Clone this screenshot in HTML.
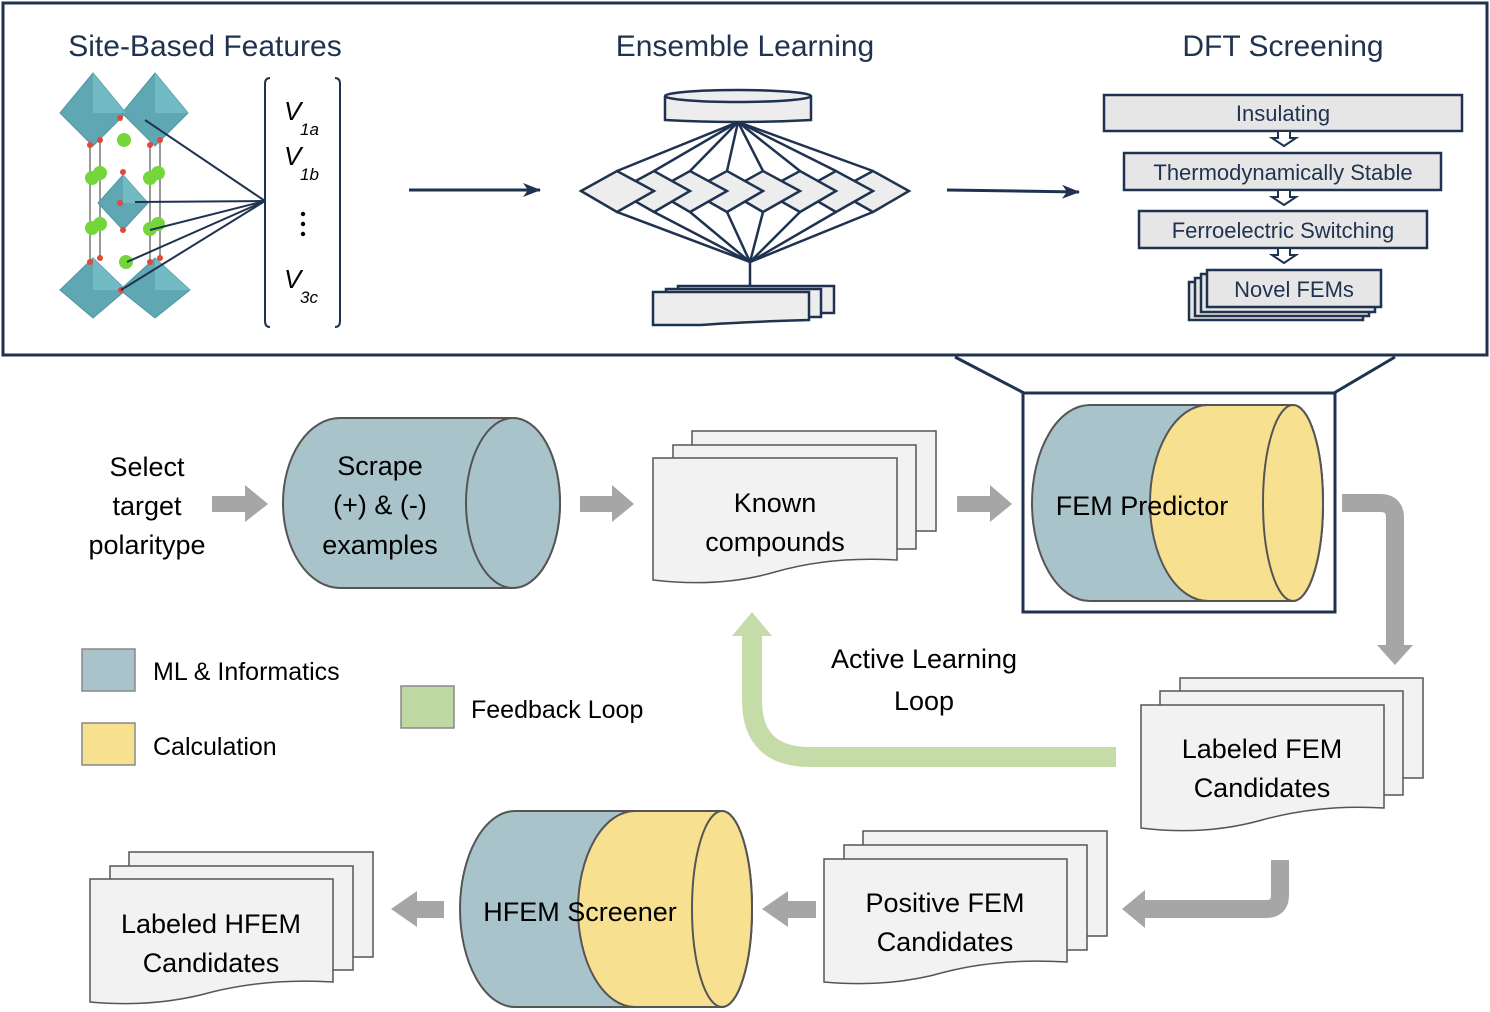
<!DOCTYPE html>
<html><head><meta charset="utf-8"><style>
html,body{margin:0;padding:0;background:#fff;}
svg{display:block;font-family:"Liberation Sans",sans-serif;}
</style></head><body>
<svg width="1490" height="1012" viewBox="0 0 1490 1012" xmlns="http://www.w3.org/2000/svg">
<defs>
<marker id="ah" markerWidth="18" markerHeight="14" refX="17" refY="7" orient="auto" markerUnits="userSpaceOnUse"><path d="M0,0 L18,7 L0,14 L5,7 Z" fill="#1f3350"/></marker>
</defs>
<rect x="3" y="3" width="1484" height="352" fill="#fff" stroke="#1f3350" stroke-width="3"/>
<text x="205" y="56" font-size="30" text-anchor="middle" fill="#1f3350">Site-Based Features</text>
<text x="745" y="56" font-size="30" text-anchor="middle" fill="#1f3350">Ensemble Learning</text>
<text x="1283" y="56" font-size="30" text-anchor="middle" fill="#1f3350">DFT Screening</text>

<g stroke="#999" stroke-width="2">
<line x1="90" y1="145" x2="90" y2="262"/><line x1="100" y1="140" x2="100" y2="258"/>
<line x1="150" y1="145" x2="150" y2="262"/><line x1="160" y1="140" x2="160" y2="258"/>
</g>
<g fill="#5fa8b3" stroke="#4f96a1" stroke-width="1">
<polygon points="93,73 126,113 93,146 60,113"/>
<polygon points="155,73 188,113 155,146 122,113"/>
<polygon points="123,175 148,203 123,230 98,203"/>
<polygon points="93,258 126,290 93,318 60,290"/>
<polygon points="155,258 190,290 155,318 120,290"/>
</g>
<g fill="#7fc6cf" opacity="0.6">
<polygon points="93,73 126,113 93,113"/><polygon points="155,73 188,113 155,113"/>
<polygon points="123,175 148,203 123,203"/><polygon points="93,258 126,290 93,290"/><polygon points="155,258 190,290 155,290"/>
</g>
<g fill="#74d63a">
<circle cx="124" cy="140" r="7"/><circle cx="92" cy="178" r="7"/><circle cx="100" cy="173" r="7"/>
<circle cx="150" cy="178" r="7"/><circle cx="158" cy="173" r="7"/>
<circle cx="92" cy="228" r="7"/><circle cx="100" cy="224" r="7"/>
<circle cx="150" cy="229" r="7"/><circle cx="158" cy="224" r="7"/><circle cx="126" cy="262" r="7"/>
</g>
<g fill="#e0483a">
<circle cx="120" cy="118" r="3"/><circle cx="90" cy="145" r="3"/><circle cx="100" cy="140" r="3"/><circle cx="150" cy="145" r="3"/><circle cx="160" cy="140" r="3"/>
<circle cx="123" cy="172" r="3"/><circle cx="120" cy="203" r="3"/><circle cx="123" cy="230" r="3"/>
<circle cx="90" cy="262" r="3"/><circle cx="100" cy="258" r="3"/><circle cx="150" cy="262" r="3"/><circle cx="160" cy="258" r="3"/><circle cx="121" cy="290" r="3"/>
</g>
<g stroke="#1f3350" stroke-width="2" fill="none">
<line x1="265" y1="201" x2="145" y2="120"/><line x1="265" y1="201" x2="135" y2="202"/>
<line x1="265" y1="201" x2="150" y2="230"/><line x1="265" y1="201" x2="127" y2="262"/>
<line x1="265" y1="201" x2="121" y2="290"/>
<path d="M270,78 Q265,78 265,84 V321 Q265,327 270,327"/>
<path d="M335,78 Q340,78 340,84 V321 Q340,327 335,327"/>
</g>
<g font-style="italic" fill="#000">
<text x="284" y="120" font-size="26">V</text><text x="300" y="135" font-size="17">1a</text>
<text x="284" y="165" font-size="26">V</text><text x="300" y="180" font-size="17">1b</text>
<text x="284" y="288" font-size="26">V</text><text x="300" y="303" font-size="17">3c</text>
</g>
<g fill="#000"><circle cx="303" cy="214" r="2.2"/><circle cx="303" cy="224" r="2.2"/><circle cx="303" cy="234" r="2.2"/></g>

<line x1="409" y1="190" x2="540" y2="190" stroke="#1f3350" stroke-width="3" marker-end="url(#ah)"/>
<line x1="947" y1="190" x2="1079" y2="192" stroke="#1f3350" stroke-width="3" marker-end="url(#ah)"/>

<g stroke="#1f3350" stroke-width="2.5" fill="#ededed">
<path d="M665,96 V120 Q738,124 811,120 V96"/>
<ellipse cx="738" cy="96" rx="73" ry="6"/>
<g fill="none">
<line x1="738" y1="122" x2="617" y2="171"/><line x1="738" y1="122" x2="654" y2="171"/>
<line x1="738" y1="122" x2="690" y2="171"/><line x1="738" y1="122" x2="727" y2="171"/>
<line x1="738" y1="122" x2="763" y2="171"/><line x1="738" y1="122" x2="800" y2="171"/>
<line x1="738" y1="122" x2="836" y2="171"/><line x1="738" y1="122" x2="873" y2="171"/>
<line x1="750" y1="262" x2="617" y2="212"/><line x1="750" y1="262" x2="654" y2="212"/>
<line x1="750" y1="262" x2="690" y2="212"/><line x1="750" y1="262" x2="727" y2="212"/>
<line x1="750" y1="262" x2="763" y2="212"/><line x1="750" y1="262" x2="800" y2="212"/>
<line x1="750" y1="262" x2="836" y2="212"/><line x1="750" y1="262" x2="873" y2="212"/>
<line x1="750" y1="262" x2="750" y2="286"/>
</g>
<polygon points="836,191 873,171 909,191 873,212"/>
<polygon points="800,191 836,171 873,191 836,212"/>
<polygon points="763,191 800,171 836,191 800,212"/>
<polygon points="727,191 763,171 800,191 763,212"/>
<polygon points="690,191 727,171 763,191 727,212"/>
<polygon points="654,191 690,171 727,191 690,212"/>
<polygon points="617,191 654,171 690,191 654,212"/>
<polygon points="581,191 617,171 654,191 617,212"/>
<rect x="678" y="286" width="156" height="27"/>
<rect x="666" y="289" width="155" height="28"/>
<path d="M653,292 H809 V320 Q740,322 700,325 H653 Z"/>
</g>

<g stroke="#1f3350" stroke-width="2.5" fill="#e6e6e6">
<rect x="1104" y="95" width="358" height="36"/>
<rect x="1124" y="153" width="317" height="37"/>
<rect x="1139" y="211" width="288" height="37"/>
<rect x="1189" y="282" width="174" height="38"/>
<rect x="1195" y="278" width="174" height="38"/>
<rect x="1201" y="274" width="174" height="38"/>
<rect x="1207" y="270" width="174" height="37"/>
<path d="M1278,132 V138 H1272 L1284,146 L1296,138 H1290 V132" fill="#fff" stroke-width="2"/>
<path d="M1278,191 V197 H1272 L1284,205 L1296,197 H1290 V191" fill="#fff" stroke-width="2"/>
<path d="M1278,249 V255 H1272 L1284,263 L1296,255 H1290 V249" fill="#fff" stroke-width="2"/>
</g>
<g font-size="22" fill="#1f3350" text-anchor="middle">
<text x="1283" y="121">Insulating</text>
<text x="1283" y="180">Thermodynamically Stable</text>
<text x="1283" y="238">Ferroelectric Switching</text>
<text x="1294" y="297">Novel FEMs</text>
</g>

<g stroke="#1f3350" stroke-width="3" fill="none">
<line x1="955" y1="357" x2="1024" y2="393"/>
<line x1="1395" y1="357" x2="1334" y2="393"/>
<rect x="1023" y="393" width="312" height="219"/>
</g>

<g fill="#a6a6a6">
<polygon points="212,496 245,496 245,485 268,504 245,522 245,512 212,512"/>
<polygon points="580,496 612,496 612,485 634,504 612,522 612,512 580,512"/>
<polygon points="957,496 990,496 990,485 1012,504 990,522 990,512 957,512"/>
<polygon points="1377,645 1413,645 1395,665"/>
<polygon points="1145,890 1145,928 1122,909"/>
<polygon points="816,901 788,901 788,891 762,909 788,927 788,918 816,918"/>
<polygon points="444,901 417,901 417,891 391,909 417,927 417,918 444,918"/>
</g>
<g stroke="#a6a6a6" stroke-width="18" fill="none">
<path d="M1342,503 H1380 Q1395,503 1395,518 V646"/>
<path d="M1280,860 V895 Q1280,909 1266,909 H1144"/>
</g>
<path d="M1116,757 H810 Q752,757 752,700 V634" stroke="#c5dca8" stroke-width="20" fill="none"/>
<polygon points="732,636 772,636 752,612" fill="#c5dca8"/>

<g stroke="#555" stroke-width="2">
<path d="M340,418 H513 A47,85 0 0 1 513,588 H340 A57,85 0 0 1 340,418 Z" fill="#a9c3cb"/>
<ellipse cx="513" cy="503" rx="47" ry="85" fill="#a9c3cb"/>
<path d="M1090,405 H1293 A30,98 0 0 1 1293,601 H1090 A58,98 0 0 1 1090,405 Z" fill="#a9c3cb"/>
<path d="M1208,405 H1293 A30,98 0 0 1 1293,601 H1208 A58,98 0 0 1 1208,405 Z" fill="#f7e08f"/>
<ellipse cx="1293" cy="503" rx="30" ry="98" fill="#f7e08f"/>
<path d="M515,811 H722 A30,98 0 0 1 722,1007 H515 A55,98 0 0 1 515,811 Z" fill="#a9c3cb"/>
<path d="M635,811 H722 A30,98 0 0 1 722,1007 H635 A57,98 0 0 1 635,811 Z" fill="#f7e08f"/>
<ellipse cx="722" cy="909" rx="30" ry="98" fill="#f7e08f"/>
</g>

<g stroke="#555" stroke-width="1.5" fill="#f2f2f2">
<rect x="692" y="431" width="244" height="100"/>
<rect x="673" y="445" width="243" height="104"/>
<path d="M653,458 H897 V560 Q830,556 775,572 Q720,588 653,580 Z"/>
<rect x="1180" y="678" width="243" height="100"/>
<rect x="1160" y="691" width="243" height="104"/>
<path d="M1141,705 H1384 V808 Q1320,804 1262,820 Q1205,836 1141,828 Z"/>
<rect x="863" y="831" width="244" height="105"/>
<rect x="844" y="845" width="243" height="105"/>
<path d="M824,859 H1067 V962 Q1000,958 945,972 Q890,988 824,982 Z"/>
<rect x="129" y="852" width="244" height="105"/>
<rect x="110" y="866" width="243" height="104"/>
<path d="M90,879 H333 V982 Q270,978 212,992 Q155,1008 90,1002 Z"/>
</g>

<g stroke="#888" stroke-width="1.5">
<rect x="82" y="649" width="53" height="42" fill="#a9c3cb"/>
<rect x="82" y="723" width="53" height="42" fill="#f7e08f"/>
<rect x="401" y="686" width="53" height="42" fill="#c0d9a4"/>
</g>

<g font-size="27" fill="#000" text-anchor="middle">
<text x="147" y="476">Select</text><text x="147" y="515">target</text><text x="147" y="554">polaritype</text>
<text x="380" y="475">Scrape</text><text x="380" y="514">(+) &amp; (-)</text><text x="380" y="554">examples</text>
<text x="775" y="512">Known</text><text x="775" y="551">compounds</text>
<text x="1142" y="515">FEM Predictor</text>
<text x="924" y="668">Active Learning</text><text x="924" y="710">Loop</text>
<text x="1262" y="758">Labeled FEM</text><text x="1262" y="797">Candidates</text>
<text x="945" y="912">Positive FEM</text><text x="945" y="951">Candidates</text>
<text x="580" y="921">HFEM Screener</text>
<text x="211" y="933">Labeled HFEM</text><text x="211" y="972">Candidates</text>
</g>
<g font-size="25" fill="#000">
<text x="153" y="680">ML &amp; Informatics</text>
<text x="153" y="755">Calculation</text>
<text x="471" y="718">Feedback Loop</text>
</g>
</svg>
</body></html>
